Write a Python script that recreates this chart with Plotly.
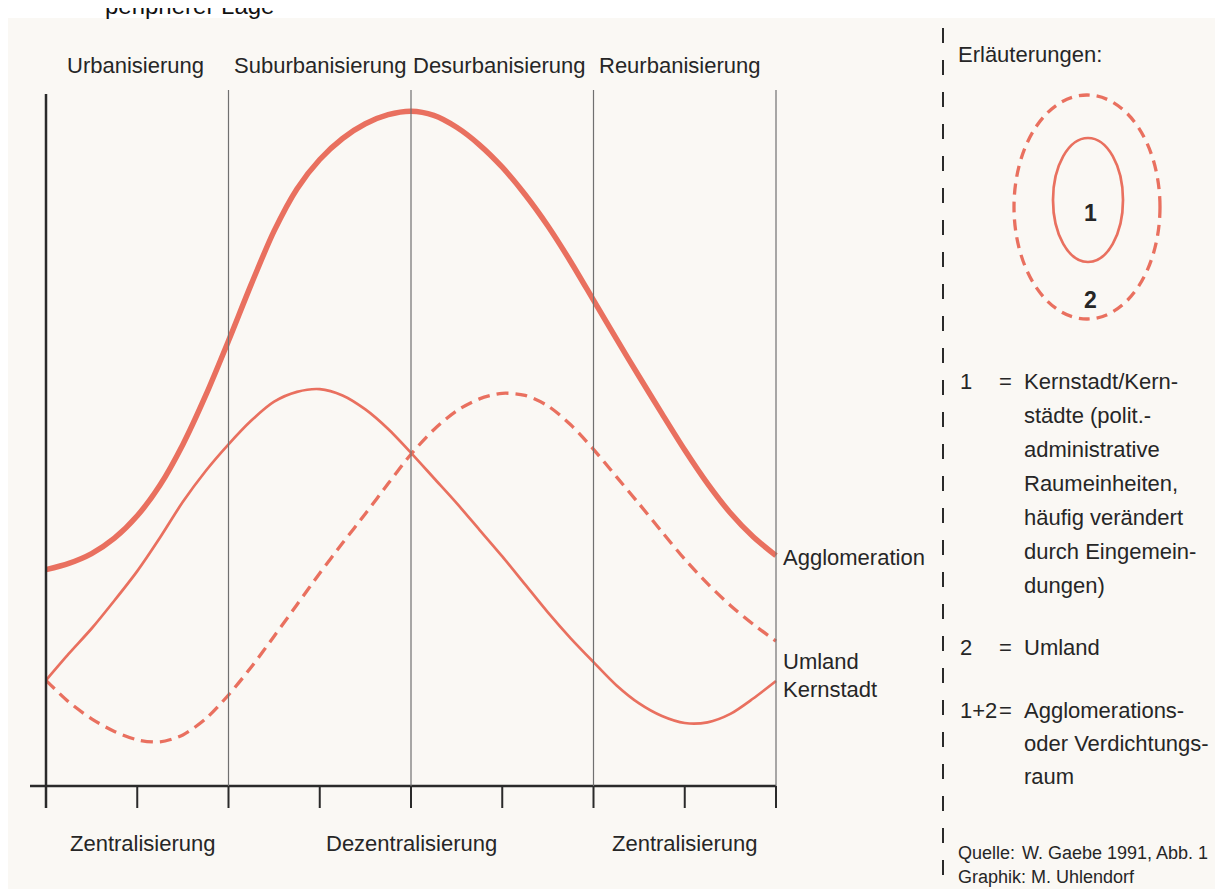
import plotly.graph_objects as go

# ---------------- data ----------------
phase_x = [0, 0.125, 0.25, 0.375, 0.5, 0.625, 0.75, 0.875,
           1.0, 1.125, 1.25, 1.375, 1.5, 1.625, 1.75, 1.875,
           2.0, 2.125, 2.25, 2.375, 2.5, 2.625, 2.75, 2.875,
           3.0, 3.125, 3.25, 3.375, 3.5, 3.625, 3.75, 3.875, 4.0]
agglomeration = [30.9, 31.8, 33.2, 35.4, 38.6, 43.0, 48.8, 55.8,
                 63.6, 71.7, 79.3, 85.3, 89.5, 92.5, 94.6, 95.9,
                 96.4, 95.8, 94.1, 91.6, 88.4, 84.5, 80.0, 74.9,
                 69.4, 63.9, 58.5, 53.2, 48.0, 43.2, 39.0, 35.6, 32.9]
kernstadt = [15.1, 18.9, 22.5, 26.5, 30.7, 35.5, 40.6, 45.0,
             48.8, 52.2, 54.9, 56.3, 56.7, 55.8, 53.8, 51.0,
             47.6, 44.0, 40.4, 36.6, 32.8, 28.8, 24.8, 21.1,
             17.7, 14.4, 11.8, 10.0, 9.0, 9.1, 10.3, 12.5, 15.0]
umland = [15.1, 12.0, 9.6, 7.8, 6.6, 6.3, 7.3, 9.6,
          13.0, 17.0, 21.4, 25.9, 30.4, 34.7, 38.9, 43.2,
          47.4, 50.9, 53.6, 55.3, 56.1, 55.8, 54.3, 51.6,
          48.1, 44.2, 40.3, 36.3, 32.4, 28.9, 25.8, 23.1, 20.7]

phases_top = ["Urbanisierung", "Suburbanisierung", "Desurbanisierung", "Reurbanisierung"]
phases_top_x = [0.49, 1.5, 2.48, 3.47]
phases_bottom = ["Zentralisierung", "Dezentralisierung", "Zentralisierung"]
phases_bottom_x = [0.53, 2.0, 3.5]
divider_x = [1, 2, 3, 4]
tick_x = [0.5, 1.5, 2.5, 3.5]

series_names = ["Agglomeration", "Umland", "Kernstadt"]

legend_lines = ["Kernstadt/Kern-", "städte (polit.-", "administrative",
                "Raumeinheiten,", "häufig verändert", "durch Eingemein-", "dungen)"]
legend_lines_2 = ["Agglomerations-", "oder Verdichtungs-", "raum"]

# ---------------- styling ----------------
W, H = 1223, 889
X0, KX = 38.0, 182.5     # px of x=0, px per phase unit
Y0, KY = 778.0, 7.0      # px of y=0, px per value unit
RED = "#E9705F"
AX = "#2a2a2a"
GRID = "#707070"
BG = "#FAF8F4"
FONT = "Liberation Sans, Arial, Helvetica, sans-serif"
FS = 22
TXT = "#262626"


def xr(px):
    return px / W


def yr(py):
    return 1 - py / H


fig = go.Figure()

fig.add_trace(go.Scatter(x=phase_x, y=agglomeration, mode="lines", name=series_names[0],
                         line=dict(color=RED, width=5.5, shape="spline", smoothing=0.8)))
fig.add_trace(go.Scatter(x=phase_x, y=umland, mode="lines", name=series_names[1],
                         line=dict(color=RED, width=3.3, dash="12px,7px", shape="spline", smoothing=0.8)))
fig.add_trace(go.Scatter(x=phase_x, y=kernstadt, mode="lines", name=series_names[2],
                         line=dict(color=RED, width=2.7, shape="spline", smoothing=0.8)))

shapes = []
# white strip at the top of the scanned page
shapes.append(dict(type="rect", xref="paper", yref="paper", x0=0, x1=1, y0=yr(10), y1=1,
                   fillcolor="white", line=dict(width=0), layer="below"))
# left axis and baseline
y_top_axis = (Y0 - 86) / KY
y_tick_bot = (Y0 - 800) / KY
shapes.append(dict(type="line", x0=0, x1=0, y0=y_tick_bot, y1=y_top_axis, line=dict(color=AX, width=2.5)))
shapes.append(dict(type="line", x0=(22 - X0) / KX, x1=4, y0=0, y1=0, line=dict(color=AX, width=2.5)))
# phase dividers
for dx in divider_x:
    shapes.append(dict(type="line", x0=dx, x1=dx, y0=0, y1=(Y0 - 82) / KY, line=dict(color=GRID, width=1.2)))
    shapes.append(dict(type="line", x0=dx, x1=dx, y0=y_tick_bot, y1=0, line=dict(color=AX, width=2)))
# half ticks
for tx in tick_x:
    shapes.append(dict(type="line", x0=tx, x1=tx, y0=y_tick_bot, y1=0, line=dict(color=AX, width=2)))
# dashed separator
shapes.append(dict(type="line", xref="paper", yref="paper", x0=xr(935), x1=xr(935), y0=yr(20), y1=0,
                   line=dict(color=AX, width=2, dash="15px,17px")))
# legend ellipses
shapes.append(dict(type="circle", xref="paper", yref="paper", x0=xr(1006), x1=xr(1152), y0=yr(311), y1=yr(87),
                   line=dict(color=RED, width=3.3, dash="11px,7px")))
shapes.append(dict(type="circle", xref="paper", yref="paper", x0=xr(1045), x1=xr(1115), y0=yr(254), y1=yr(130),
                   line=dict(color=RED, width=2.7)))

ann = []
for lab, lx in zip(phases_top, phases_top_x):
    ann.append(dict(x=lx, y=(Y0 - 57) / KY, text=lab, showarrow=False, xanchor="center", yanchor="middle",
                    font=dict(family=FONT, size=FS, color=TXT)))
for lab, lx in zip(phases_bottom, phases_bottom_x):
    ann.append(dict(x=lx, y=(Y0 - 835) / KY, text=lab, showarrow=False, xanchor="center", yanchor="middle",
                    font=dict(family=FONT, size=FS, color=TXT)))
# curve labels
for lab, py in zip(series_names, [549, 653, 681]):
    ann.append(dict(x=(773 - X0) / KX, y=(Y0 - py) / KY, text=lab, showarrow=False, xanchor="left",
                    yanchor="middle", font=dict(family=FONT, size=FS, color=TXT)))


def pann(px, py, text, size=FS, anchor="left", bold=False):
    ann.append(dict(xref="paper", yref="paper", x=xr(px), y=yr(py), text=("<b>%s</b>" % text) if bold else text,
                    showarrow=False, xanchor=anchor, yanchor="middle",
                    font=dict(family=FONT, size=size, color=TXT)))


# cut-off text of the page above the figure
ann.append(dict(xref="paper", yref="paper", x=xr(95), y=yr(-3), text="peripherer Lage", showarrow=False,
                xanchor="left", yanchor="middle", font=dict(family=FONT, size=24, color="#111")))

pann(948, 47, "Erläuterungen:")
pann(1082, 205, "1", size=23, bold=True, anchor="center")
pann(1082, 292, "2", size=23, bold=True, anchor="center")

row0, dy = 373, 34
pann(950, row0, "1")
pann(989, row0, "=")
for i, t in enumerate(legend_lines):
    pann(1014, row0 + i * dy, t)

pann(950, 639, "2")
pann(989, 639, "=")
pann(1014, 639, "Umland")

pann(950, 702, "1+2")
pann(989, 702, "=")
for i, t in enumerate(legend_lines_2):
    pann(1014, 702 + i * 33, t)

pann(948, 845, "Quelle:", size=18)
pann(1012, 845, "W. Gaebe 1991, Abb. 1", size=18)
pann(948, 869, "Graphik: M. Uhlendorf", size=18)

fig.update_layout(
    width=W, height=H,
    margin=dict(l=0, r=0, t=0, b=0, pad=0),
    paper_bgcolor=BG, plot_bgcolor="rgba(0,0,0,0)",
    showlegend=False,
    shapes=shapes, annotations=ann,
    xaxis=dict(range=[(0 - X0) / KX, (W - X0) / KX], visible=False, fixedrange=True),
    yaxis=dict(range=[(Y0 - H) / KY, Y0 / KY], visible=False, fixedrange=True),
)

fig.write_html("out.html")
